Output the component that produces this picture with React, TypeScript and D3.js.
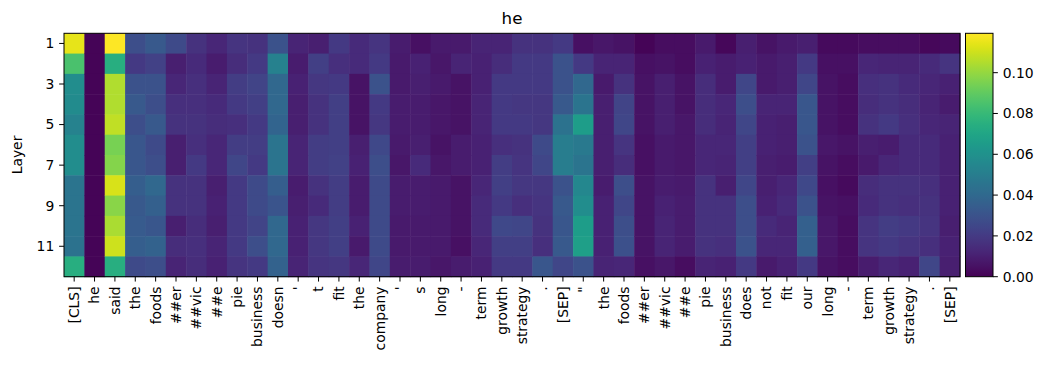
import React from "react";
import * as d3 from "d3";

// Tokens along the x axis
const tokens: string[] = [
  "[CLS]", "he", "said", "the", "foods", "##er", "##vic", "##e", "pie", "business", "doesn",
  "'", "t", "fit", "the", "company", "'", "s", "long", "-", "term", "growth", "strategy", ".",
  "[SEP]", "\"", "the", "foods", "##er", "##vic", "##e", "pie", "business", "does", "not", "fit",
  "our", "long", "-", "term", "growth", "strategy", ".", "[SEP]",
];

const layers: number[] = [1, 2, 3, 4, 5, 6, 7, 8, 9, 10, 11, 12];
const layerTicks: number[] = [1, 3, 5, 7, 9, 11];
const colorTicks: number[] = [0, 0.02, 0.04, 0.06, 0.08, 0.1];
const vmax = 0.1193;

// Attention per token column, one value per layer (layer 1 .. 12)
const attention: number[][] = [
  [0.115, 0.085, 0.058, 0.057, 0.053, 0.058, 0.058, 0.046, 0.046, 0.046, 0.045, 0.075], // [CLS]
  [0.001, 0.001, 0.001, 0.001, 0.001, 0.001, 0.001, 0.001, 0.001, 0.001, 0.001, 0.001], // he
  [0.119, 0.075, 0.105, 0.105, 0.108, 0.095, 0.097, 0.112, 0.098, 0.104, 0.11, 0.075], // said
  [0.028, 0.02, 0.03, 0.033, 0.028, 0.032, 0.032, 0.035, 0.033, 0.034, 0.035, 0.027], // the
  [0.033, 0.023, 0.03, 0.028, 0.033, 0.027, 0.028, 0.04, 0.036, 0.032, 0.037, 0.028], // foods
  [0.027, 0.01, 0.013, 0.016, 0.017, 0.01, 0.01, 0.017, 0.017, 0.01, 0.015, 0.012], // ##er
  [0.017, 0.014, 0.016, 0.016, 0.017, 0.016, 0.02, 0.017, 0.017, 0.015, 0.016, 0.015], // ##vic
  [0.013, 0.009, 0.012, 0.014, 0.015, 0.013, 0.013, 0.01, 0.011, 0.01, 0.012, 0.011], // ##e
  [0.018, 0.015, 0.021, 0.02, 0.016, 0.021, 0.025, 0.02, 0.02, 0.02, 0.02, 0.018], // pie
  [0.017, 0.02, 0.024, 0.022, 0.02, 0.021, 0.02, 0.027, 0.027, 0.024, 0.028, 0.02], // business
  [0.03, 0.052, 0.04, 0.04, 0.038, 0.046, 0.046, 0.035, 0.031, 0.04, 0.04, 0.037], // doesn
  [0.012, 0.009, 0.011, 0.01, 0.01, 0.012, 0.012, 0.009, 0.01, 0.011, 0.011, 0.012], // '
  [0.01, 0.022, 0.019, 0.017, 0.017, 0.021, 0.021, 0.017, 0.014, 0.019, 0.019, 0.018], // t
  [0.02, 0.016, 0.02, 0.022, 0.022, 0.022, 0.023, 0.021, 0.021, 0.022, 0.022, 0.019], // fit
  [0.014, 0.014, 0.006, 0.006, 0.006, 0.01, 0.011, 0.009, 0.009, 0.011, 0.008, 0.013], // the
  [0.018, 0.02, 0.03, 0.02, 0.019, 0.026, 0.028, 0.027, 0.027, 0.027, 0.027, 0.025], // company
  [0.009, 0.008, 0.008, 0.009, 0.009, 0.008, 0.007, 0.009, 0.009, 0.008, 0.008, 0.009], // '
  [0.005, 0.011, 0.01, 0.009, 0.009, 0.01, 0.014, 0.009, 0.009, 0.008, 0.008, 0.009], // s
  [0.008, 0.007, 0.008, 0.007, 0.007, 0.006, 0.007, 0.008, 0.008, 0.008, 0.008, 0.007], // long
  [0.008, 0.012, 0.006, 0.006, 0.006, 0.009, 0.009, 0.006, 0.006, 0.006, 0.005, 0.009], // -
  [0.012, 0.011, 0.011, 0.012, 0.012, 0.011, 0.011, 0.013, 0.014, 0.014, 0.013, 0.011], // term
  [0.012, 0.015, 0.02, 0.02, 0.02, 0.016, 0.021, 0.022, 0.02, 0.026, 0.022, 0.02], // growth
  [0.017, 0.02, 0.02, 0.019, 0.02, 0.017, 0.018, 0.019, 0.016, 0.025, 0.022, 0.02], // strategy
  [0.017, 0.02, 0.02, 0.019, 0.019, 0.027, 0.025, 0.019, 0.018, 0.017, 0.016, 0.032], // .
  [0.02, 0.03, 0.03, 0.033, 0.045, 0.05, 0.05, 0.03, 0.033, 0.032, 0.033, 0.025], // [SEP]
  [0.005, 0.02, 0.04, 0.046, 0.066, 0.048, 0.046, 0.055, 0.058, 0.066, 0.067, 0.03], // "
  [0.007, 0.012, 0.008, 0.01, 0.01, 0.01, 0.01, 0.009, 0.011, 0.011, 0.011, 0.012], // the
  [0.006, 0.012, 0.017, 0.024, 0.025, 0.018, 0.015, 0.028, 0.025, 0.028, 0.029, 0.013], // foods
  [0.001, 0.005, 0.006, 0.006, 0.006, 0.005, 0.005, 0.006, 0.006, 0.006, 0.006, 0.005], // ##er
  [0.004, 0.006, 0.01, 0.01, 0.01, 0.008, 0.008, 0.009, 0.011, 0.012, 0.012, 0.007], // ##vic
  [0.004, 0.004, 0.006, 0.006, 0.007, 0.007, 0.007, 0.008, 0.009, 0.009, 0.009, 0.004], // ##e
  [0.008, 0.011, 0.015, 0.015, 0.015, 0.013, 0.013, 0.017, 0.017, 0.017, 0.017, 0.012], // pie
  [0.002, 0.009, 0.009, 0.013, 0.012, 0.013, 0.012, 0.01, 0.017, 0.017, 0.016, 0.011], // business
  [0.01, 0.011, 0.025, 0.028, 0.025, 0.022, 0.022, 0.025, 0.028, 0.028, 0.03, 0.02], // does
  [0.006, 0.008, 0.008, 0.012, 0.011, 0.011, 0.01, 0.01, 0.011, 0.014, 0.013, 0.008], // not
  [0.008, 0.01, 0.01, 0.012, 0.01, 0.01, 0.009, 0.013, 0.014, 0.012, 0.013, 0.011], // fit
  [0.01, 0.02, 0.025, 0.032, 0.032, 0.03, 0.022, 0.026, 0.03, 0.036, 0.036, 0.02], // our
  [0.003, 0.005, 0.006, 0.006, 0.006, 0.007, 0.006, 0.005, 0.006, 0.007, 0.007, 0.006], // long
  [0.003, 0.005, 0.004, 0.004, 0.004, 0.006, 0.004, 0.003, 0.005, 0.004, 0.004, 0.004], // -
  [0.004, 0.013, 0.016, 0.015, 0.017, 0.01, 0.008, 0.015, 0.014, 0.018, 0.018, 0.009], // term
  [0.004, 0.012, 0.017, 0.017, 0.02, 0.009, 0.013, 0.017, 0.017, 0.021, 0.02, 0.013], // growth
  [0.004, 0.012, 0.014, 0.015, 0.016, 0.014, 0.014, 0.017, 0.016, 0.02, 0.018, 0.011], // strategy
  [0.002, 0.014, 0.013, 0.012, 0.013, 0.014, 0.014, 0.016, 0.017, 0.018, 0.016, 0.025], // .
  [0.003, 0.018, 0.011, 0.009, 0.012, 0.011, 0.011, 0.011, 0.011, 0.01, 0.011, 0.01], // [SEP]
];

const W = 1046;
const H = 370;
const plot = { left: 64, top: 33.3, right: 960, bottom: 276.7 };
const cbar = { left: 965.5, right: 993, top: 33.3, bottom: 276.7 };
const font = "DejaVu Sans, sans-serif";
const tickLen = 4.86;
const tickPad = 4.86;
const fs = 13.9;

export default function App() {
  const x = d3.scaleBand<number>().domain(d3.range(tokens.length)).range([plot.left, plot.right]);
  const y = d3.scaleBand<number>().domain(layers).range([plot.top, plot.bottom]);
  const color = (v: number) => d3.interpolateViridis(Math.max(0, Math.min(1, v / vmax)));
  const cy = d3.scaleLinear().domain([0, vmax]).range([cbar.bottom, cbar.top]);
  const stops = d3.range(0, 65).map((i) => i / 64);

  return (
    <svg
      width={W}
      height={H}
      style={{ position: "absolute", left: 0, top: 0, background: "#fff" }}
      fontFamily={font}
    >
      <defs>
        <linearGradient id="viridis-bar" x1="0" y1="1" x2="0" y2="0">
          {stops.map((t) => (
            <stop key={t} offset={t} stopColor={d3.interpolateViridis(t)} />
          ))}
        </linearGradient>
      </defs>

      {/* heatmap cells */}
      {attention.map((col, ci) =>
        col.map((v, li) => (
          <rect
            key={`${ci}-${li}`}
            x={x(ci)!}
            y={y(layers[li])!}
            width={x.bandwidth() + 0.5}
            height={y.bandwidth() + 0.5}
            fill={color(v)}
          />
        ))
      )}
      <rect
        x={plot.left}
        y={plot.top}
        width={plot.right - plot.left}
        height={plot.bottom - plot.top}
        fill="none"
        stroke="#000"
        strokeWidth={1}
      />

      {/* title */}
      <text x={(plot.left + plot.right) / 2} y={24} textAnchor="middle" fontSize={16.7} fill="#000">
        he
      </text>

      {/* y axis */}
      {layerTicks.map((l) => {
        const yy = y(l)! + y.bandwidth() / 2;
        return (
          <g key={`yt-${l}`}>
            <line x1={plot.left - tickLen} x2={plot.left} y1={yy} y2={yy} stroke="#000" strokeWidth={1} />
            <text x={plot.left - tickLen - tickPad} y={yy} dy="0.35em" textAnchor="end" fontSize={fs} fill="#000">
              {l}
            </text>
          </g>
        );
      })}
      <text
        transform={`translate(22,${(plot.top + plot.bottom) / 2}) rotate(-90)`}
        textAnchor="middle"
        fontSize={fs}
        fill="#000"
      >
        Layer
      </text>

      {/* x axis */}
      {tokens.map((t, i) => {
        const xx = x(i)! + x.bandwidth() / 2;
        return (
          <g key={`xt-${i}`}>
            <line x1={xx} x2={xx} y1={plot.bottom} y2={plot.bottom + tickLen} stroke="#000" strokeWidth={1} />
            <text
              transform={`translate(${xx},${plot.bottom + tickLen + tickPad}) rotate(-90)`}
              dy="0.35em"
              textAnchor="end"
              fontSize={fs}
              fill="#000"
            >
              {t}
            </text>
          </g>
        );
      })}

      {/* colorbar */}
      <rect
        x={cbar.left}
        y={cbar.top}
        width={cbar.right - cbar.left}
        height={cbar.bottom - cbar.top}
        fill="url(#viridis-bar)"
        stroke="#000"
        strokeWidth={1}
      />
      {colorTicks.map((v) => (
        <g key={`ct-${v}`}>
          <line x1={cbar.right} x2={cbar.right + tickLen} y1={cy(v)} y2={cy(v)} stroke="#000" strokeWidth={1} />
          <text x={cbar.right + tickLen + tickPad} y={cy(v)} dy="0.35em" fontSize={fs} fill="#000">
            {v.toFixed(2)}
          </text>
        </g>
      ))}
    </svg>
  );
}
